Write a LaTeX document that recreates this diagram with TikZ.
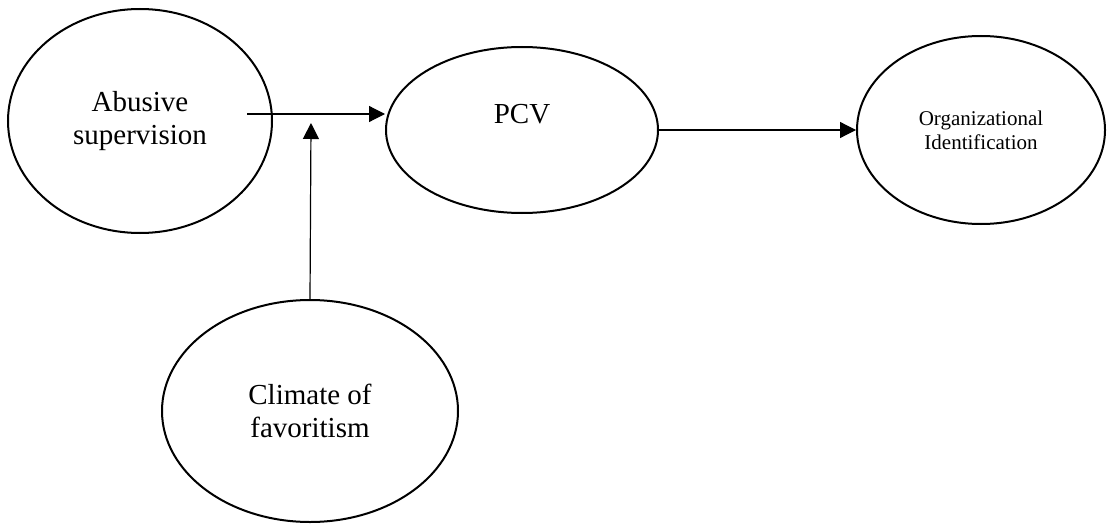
\documentclass[tikz,border=0pt]{standalone}
\usepackage{fontspec}
\setmainfont{Liberation Serif}
\usetikzlibrary{shapes.geometric,arrows.meta}

\tikzset{
	construct/.style={draw, ellipse, line width=1pt, inner sep=0pt, align=center,
		font=\fontsize{14.5}{16.5}\selectfont},
	link/.style={-{Triangle[length=8pt,width=8pt]}, line width=0.6pt},
}

\begin{document}
\begin{tikzpicture}[x=0.5pt, y=-0.5pt]
	\useasboundingbox (0,0) rectangle (1107,524);
	
	\node[construct, minimum width=132pt, minimum height=112pt] (abuse) at (140,121) {Abusive\\supervision};
	\node[construct, minimum width=136pt, minimum height=83pt] (pcv) at (522,130) {PCV\\~};
	\node[construct, minimum width=124pt, minimum height=94pt, font=\fontsize{10.5}{12}\selectfont] (orgid) at (981,130) {Organizational\\Identification};
	\node[construct, minimum width=148pt, minimum height=111pt] (climate) at (310,411) {Climate of\\favoritism};
	
	\coordinate (split) at (247,114);
	\coordinate (mod) at (311,123);
	
	\draw[link] (split) -- (split -| pcv.west);
	\draw[link] (climate.north) -- (mod);
	\draw[link] (pcv.east) -- (orgid.west);
	
\end{tikzpicture}
\end{document}
